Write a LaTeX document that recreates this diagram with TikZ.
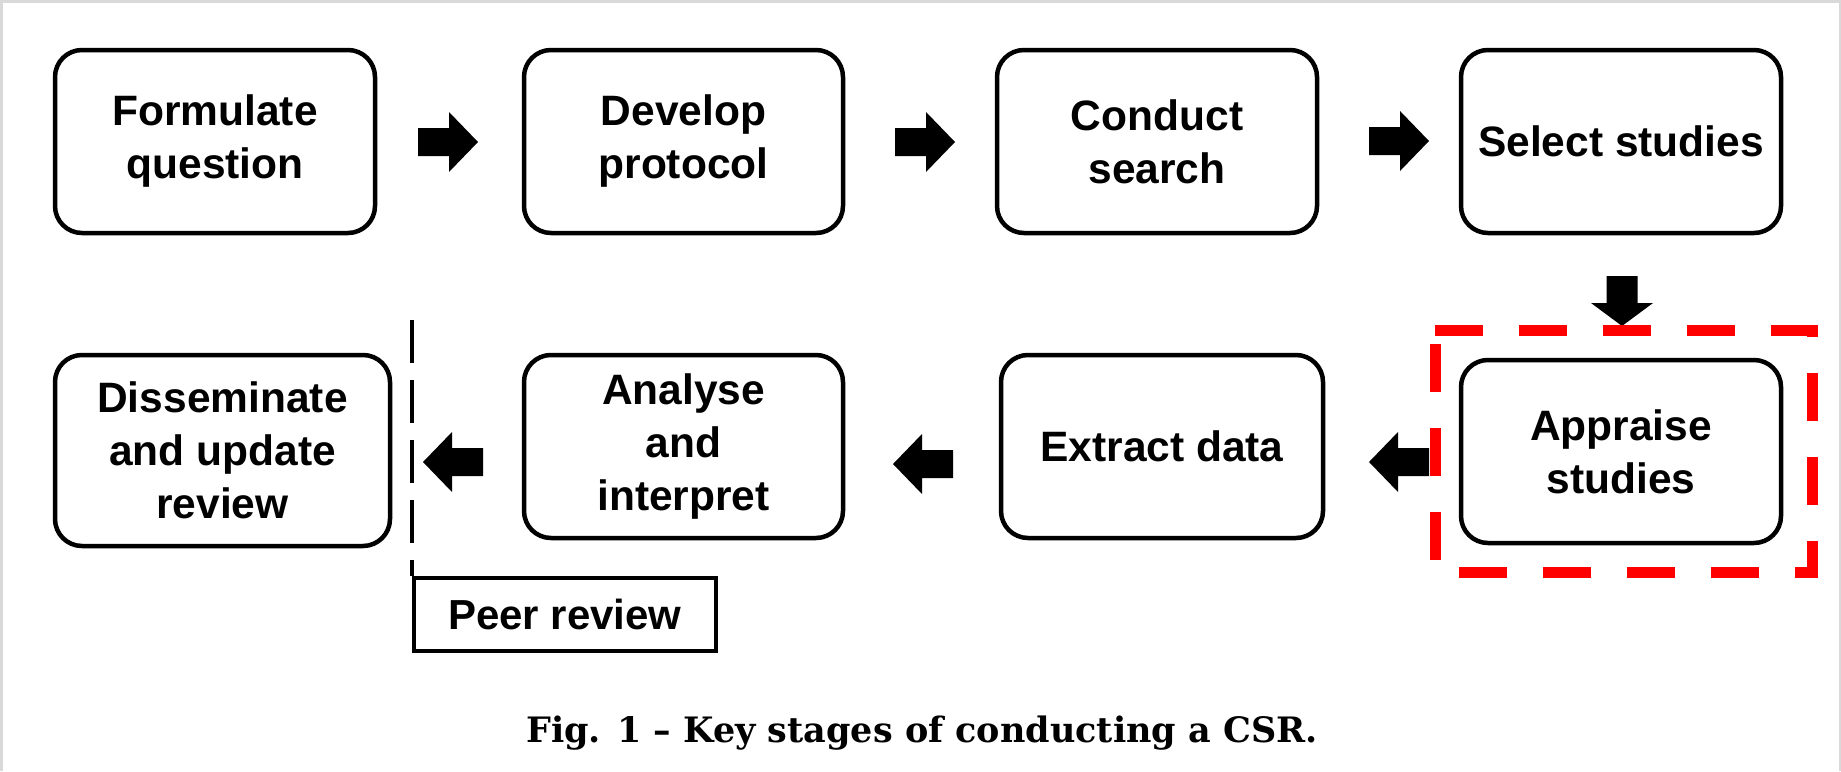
\documentclass[tikz,border=0pt]{standalone}
\usepackage{fontspec}
\setsansfont{Liberation Sans}
\newfontfamily\capfont{DejaVu Serif}
\begin{document}
\begin{tikzpicture}[x=1pt,y=-1pt,
  stage/.style={draw=black, line width=4.5pt, rounded corners=27pt, fill=white,
    align=center, inner sep=0pt,
    font=\sffamily\bfseries\fontsize{42.5}{53}\selectfont},
  peerbox/.style={draw=black, line width=3.5pt, fill=white, inner sep=0pt,
    font=\sffamily\bfseries\fontsize{42}{50}\selectfont},
  blockR/.pic={\fill[black] (0,-14) -- (31,-14) -- (31,-30) -- (60,0) -- (31,30) -- (31,14) -- (0,14) -- cycle;},
  blockD/.pic={\fill[black] (0,-15.5) -- (27,-15.5) -- (27,-31) -- (50,0) -- (27,31) -- (27,15.5) -- (0,15.5) -- cycle;},
  reddash/.style={draw=red, line width=11pt, dash pattern=on 48pt off 36pt},
  peerline/.style={draw=black, line width=3.5pt, dash pattern=on 43pt off 17pt}
]
\useasboundingbox (0,0) rectangle (1841,771);
\fill[white] (0,0) rectangle (1841,771);
\draw[black!15, line width=2.5pt] (1.25,771) -- (1.25,1.25) -- (1839.75,1.25) -- (1839.75,771);

% row 1
\node[stage, minimum width=320pt, minimum height=183pt] (q) at (215,141.5) {Formulate\\question};
\node[stage, minimum width=319pt, minimum height=183pt] (p) at (683.5,141.5) {Develop\\protocol};
\node[stage, minimum width=320pt, minimum height=183pt] (s) at (1157,141.5) {Conduct\\search};
\node[stage, minimum width=320pt, minimum height=183pt] (sel) at (1621,141.5) {Select studies};

% row 2
\node[stage, minimum width=320pt, minimum height=183pt] (app) at (1621,451.5) {Appraise\\studies};
\node[stage, minimum width=322pt, minimum height=183pt] (ext) at (1162,446.5) {Extract data};
\node[stage, minimum width=319pt, minimum height=183pt] (ana) at (683.5,446.5) {Analyse\\and\\interpret};
\node[stage, minimum width=335pt, minimum height=191pt] (dis) at (222.5,450.5) {Disseminate\\and update\\review};

% block arrows
\pic at (418,142) {blockR};
\pic at (895,142) {blockR};
\pic at (1369,141) {blockR};
\pic[rotate=-90] at (1622,276) {blockD};
\pic[rotate=180] at (1429,462) {blockR};
\pic[rotate=180] at (953,464) {blockR};
\pic[rotate=180] at (483,462) {blockR};

% peer review
\coordinate (ptop) at (412,320);
\node[peerbox, minimum width=302pt, minimum height=73pt, anchor=north west] (peer) at (412,576) {Peer review};
\draw[peerline] (ptop) -- (peer.north west);

% highlight
\draw[reddash] (1435,330) -- (1812,330) -- (1812,572) -- (1435,572) -- cycle;

% caption
\node[font=\capfont\bfseries\fontsize{35}{40}\selectfont, anchor=base, inner sep=0pt] (cap) at (922,742) {Fig. 1 – Key stages of conducting a CSR.};
\end{tikzpicture}
\end{document}
